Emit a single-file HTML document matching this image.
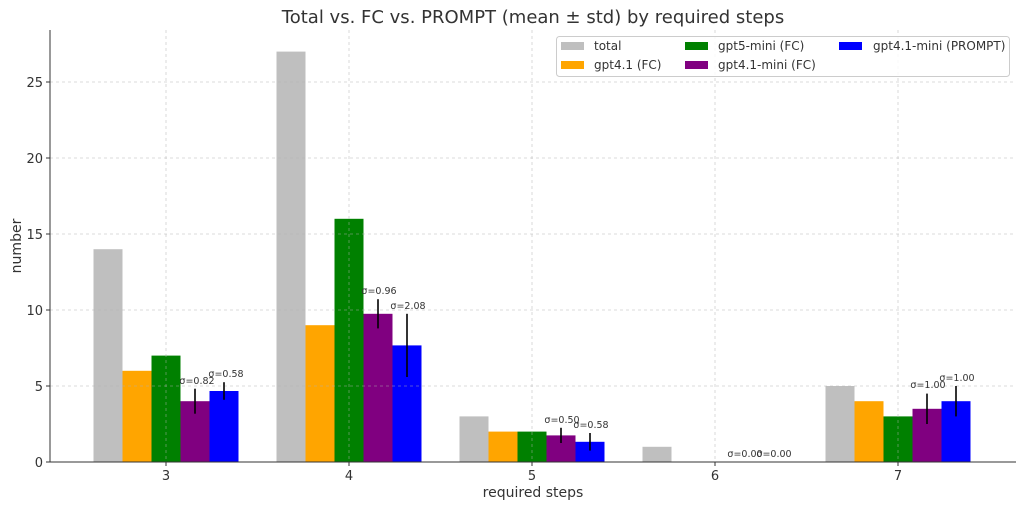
<!DOCTYPE html>
<html><head><meta charset="utf-8"><style>body{margin:0;background:#fff}svg{display:block;font-family:"DejaVu Sans","Liberation Sans",sans-serif}</style></head><body>
<svg width="1024" height="508" viewBox="0 0 1024 508">
<rect width="1024" height="508" fill="#fff"/>
<text x="533" y="23" font-size="18" text-anchor="middle" fill="#333">Total vs. FC vs. PROMPT (mean ± std) by required steps</text>
<g>
<rect x="93.5" y="249.2" width="29" height="212.8" fill="#bfbfbf"/>
<rect x="122.5" y="370.8" width="29" height="91.2" fill="#ffa500"/>
<rect x="151.5" y="355.6" width="29" height="106.4" fill="#008000"/>
<rect x="180.5" y="401.2" width="29" height="60.8" fill="#800080"/>
<rect x="209.5" y="391" width="29" height="71" fill="#0000ff"/>
<rect x="276.5" y="51.6" width="29" height="410.4" fill="#bfbfbf"/>
<rect x="305.5" y="325.2" width="29" height="136.8" fill="#ffa500"/>
<rect x="334.5" y="218.8" width="29" height="243.2" fill="#008000"/>
<rect x="363.5" y="313.8" width="29" height="148.2" fill="#800080"/>
<rect x="392.5" y="345.4" width="29" height="116.6" fill="#0000ff"/>
<rect x="459.5" y="416.4" width="29" height="45.6" fill="#bfbfbf"/>
<rect x="488.5" y="431.6" width="29" height="30.4" fill="#ffa500"/>
<rect x="517.5" y="431.6" width="29" height="30.4" fill="#008000"/>
<rect x="546.5" y="435.4" width="29" height="26.6" fill="#800080"/>
<rect x="575.5" y="441.8" width="29" height="20.2" fill="#0000ff"/>
<rect x="642.5" y="446.8" width="29" height="15.2" fill="#bfbfbf"/>
<rect x="825.5" y="386" width="29" height="76" fill="#bfbfbf"/>
<rect x="854.5" y="401.2" width="29" height="60.8" fill="#ffa500"/>
<rect x="883.5" y="416.4" width="29" height="45.6" fill="#008000"/>
<rect x="912.5" y="408.8" width="29" height="53.2" fill="#800080"/>
<rect x="941.5" y="401.2" width="29" height="60.8" fill="#0000ff"/>
</g>
<g stroke="#b0b0b0" stroke-opacity="0.6" stroke-width="0.8" stroke-dasharray="3,3">
<line x1="50" x2="1016" y1="386" y2="386"/><line x1="50" x2="1016" y1="310" y2="310"/><line x1="50" x2="1016" y1="234" y2="234"/><line x1="50" x2="1016" y1="158" y2="158"/><line x1="50" x2="1016" y1="82" y2="82"/>
<line x1="166" x2="166" y1="30" y2="462"/><line x1="349" x2="349" y1="30" y2="462"/><line x1="532" x2="532" y1="30" y2="462"/><line x1="715" x2="715" y1="30" y2="462"/><line x1="898" x2="898" y1="30" y2="462"/>
</g>
<g stroke="#000" stroke-width="1.6">
<line x1="195" x2="195" y1="388.7" y2="413.7"/><line x1="224" x2="224" y1="382.2" y2="399.8"/>
<line x1="378" x2="378" y1="299.2" y2="328.4"/><line x1="407" x2="407" y1="313.8" y2="377"/>
<line x1="561" x2="561" y1="427.8" y2="443"/><line x1="590" x2="590" y1="433" y2="450.6"/>
<line x1="927" x2="927" y1="393.6" y2="424"/><line x1="956" x2="956" y1="386" y2="416.4"/>
</g>
<g font-size="9.5" fill="#333" text-anchor="middle">
<text x="197" y="384">σ=0.82</text><text x="226" y="377">σ=0.58</text>
<text x="379" y="294">σ=0.96</text><text x="408" y="309">σ=2.08</text>
<text x="562" y="423">σ=0.50</text><text x="591" y="428">σ=0.58</text>
<text x="745" y="457">σ=0.00</text><text x="774" y="457">σ=0.00</text>
<text x="928" y="388">σ=1.00</text><text x="957" y="381">σ=1.00</text>
</g>
<g stroke="#333" stroke-width="1"><line x1="50" x2="50" y1="30" y2="462"/><line x1="50" x2="1016" y1="462" y2="462"/>
<line x1="46" x2="50" y1="462" y2="462"/><line x1="46" x2="50" y1="386" y2="386"/><line x1="46" x2="50" y1="310" y2="310"/><line x1="46" x2="50" y1="234" y2="234"/><line x1="46" x2="50" y1="158" y2="158"/><line x1="46" x2="50" y1="82" y2="82"/>
<line x1="166" x2="166" y1="462" y2="466"/><line x1="349" x2="349" y1="462" y2="466"/><line x1="532" x2="532" y1="462" y2="466"/><line x1="715" x2="715" y1="462" y2="466"/><line x1="898" x2="898" y1="462" y2="466"/></g>
<g font-size="13" fill="#333" text-anchor="end">
<text x="43" y="467">0</text><text x="43" y="391">5</text><text x="43" y="315">10</text><text x="43" y="239">15</text><text x="43" y="163">20</text><text x="43" y="87">25</text></g>
<g font-size="13" fill="#333" text-anchor="middle">
<text x="166" y="480">3</text><text x="349" y="480">4</text><text x="532" y="480">5</text><text x="715" y="480">6</text><text x="898" y="480">7</text>
<text x="533" y="497" font-size="14">required steps</text>
<text transform="translate(21,246) rotate(-90)" font-size="14">number</text></g>
<rect x="556.5" y="36.5" width="453" height="40" rx="3" fill="#fff" fill-opacity="0.8" stroke="#ccc"/>
<g font-size="12" fill="#333">
<rect x="561" y="42" width="23" height="8" fill="#bfbfbf"/><text x="594" y="50">total</text>
<rect x="561" y="61" width="23" height="8" fill="#ffa500"/><text x="594" y="69">gpt4.1 (FC)</text>
<rect x="685" y="42" width="23" height="8" fill="#008000"/><text x="718" y="50">gpt5-mini (FC)</text>
<rect x="685" y="61" width="23" height="8" fill="#800080"/><text x="718" y="69">gpt4.1-mini (FC)</text>
<rect x="839" y="42" width="23" height="8" fill="#0000ff"/><text x="873" y="50">gpt4.1-mini (PROMPT)</text>
</g>
</svg>
</body></html>
